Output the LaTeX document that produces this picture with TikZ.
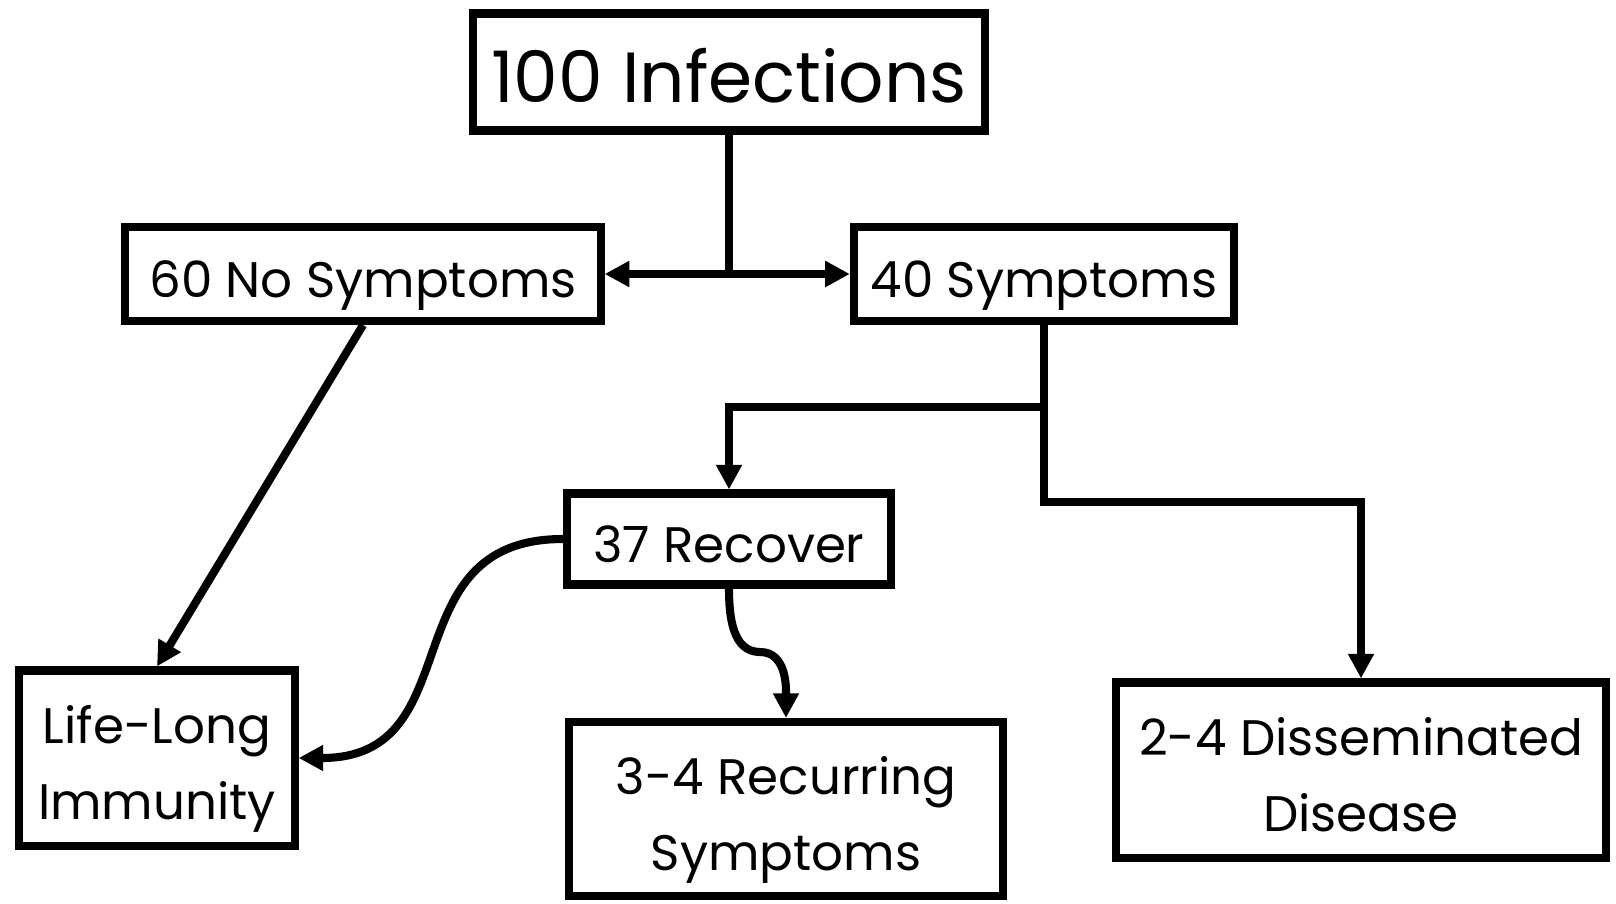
\documentclass[tikz,border=0pt]{standalone}
\usepackage{fontspec}
\setmainfont{Poppins}                 % police sans empattement, geometrique
\usepackage{tikz}
\usetikzlibrary{arrows.meta,          % pointes de fleches
           positioning}
\tikzset{
  boite/.style={draw, line width=2.3pt, inner sep=0pt, align=center,
                text height=17.3pt, text depth=3.7pt,
                font=\fontsize{14.2}{21.5}\selectfont},
  deuxlignes/.style={boite, text height=38.7pt},
  fl/.style={line width=2.3pt, -{Triangle[length=7pt,width=7pt]}}
}

\begin{document}
\begin{tikzpicture}[x=0.01cm, y=-0.01cm]
    \useasboundingbox (0,0) rectangle (1616,903);
    \node[boite, minimum width=5.12cm, minimum height=1.17cm, text height=17.6pt, text depth=0pt, font=\fontsize{20.2}{24}\selectfont](inf)at(729,72){100 Infections};
    \node[boite, minimum width=4.75cm, minimum height=0.94cm](nosym)at(363,274){60 No Symptoms};
    \node[boite, minimum width=3.80cm, minimum height=0.94cm](sym)at(1044,274){40 Symptoms};
    \node[boite, minimum width=3.24cm, minimum height=0.91cm](rec)at(729,539){37 Recover};
    \node[deuxlignes, minimum width=2.75cm, minimum height=1.75cm](life)at(157,758){Life-Long\\Immunity};
    \node[deuxlignes, minimum width=4.34cm, minimum height=1.74cm](recur)at(786,809){3-4 Recurring\\Symptoms};
    \node[deuxlignes, minimum width=4.90cm, minimum height=1.75cm](dis)at(1361,770){2-4 Disseminated\\Disease};
    \coordinate (j1) at (inf.south |- nosym.east);
    \coordinate (j2) at (sym.south |- 0,407);
    \coordinate (j3) at (sym.south |- 0,502);
    \coordinate (k) at (760,652);
    \draw[line width=2.3pt] (inf)--(j1);
    \draw[fl] (j1)--(nosym);
    \draw[fl] (j1)--(sym);
    \draw[fl] (sym)--(j2)-|(rec);
    \draw[fl] (j2)--(j3)-|(dis);
    \draw[fl] (nosym.south)--(life.north);
    \draw[fl] (rec.west) to[out=180, in=0, looseness=1.3] (life.east);
    \draw[fl] (rec.south) to[out=-90, in=180] (k) to[out=0, in=90] (recur.north);
\end{tikzpicture}
\end{document}
